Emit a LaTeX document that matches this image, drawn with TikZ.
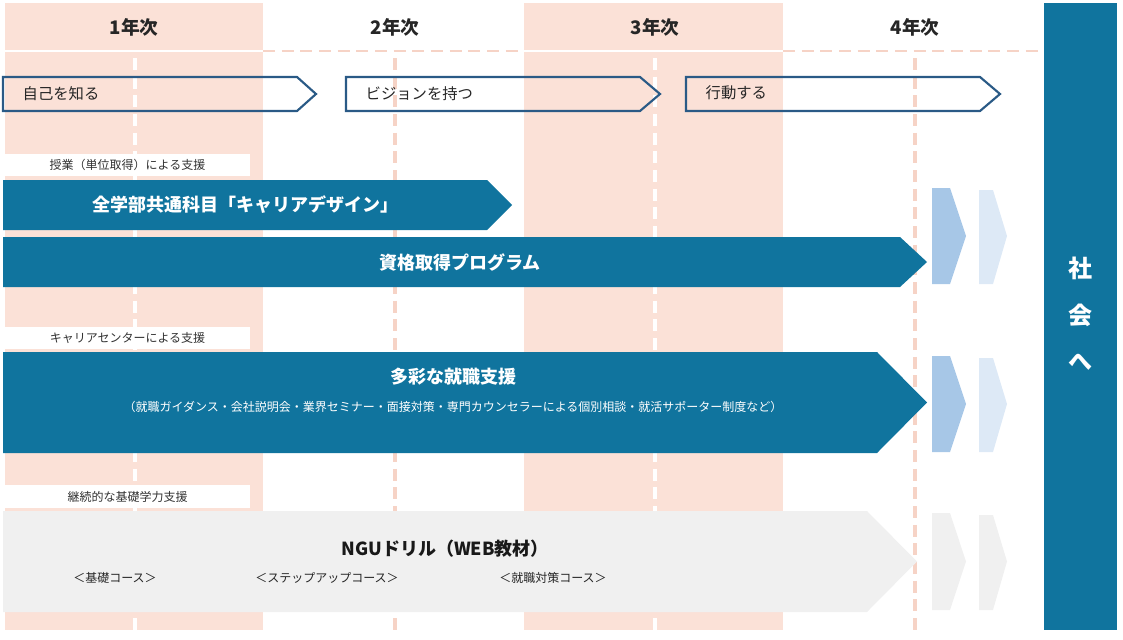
\documentclass[tikz,border=0pt]{standalone}
\usepackage{fontspec}
\setmainfont{Noto Sans CJK JP}
\definecolor{pinkband}{HTML}{FBE1D7}
\definecolor{pinkline}{HTML}{F6D3C6}
\definecolor{teal}{HTML}{10749E}
\definecolor{navy}{HTML}{2A5A86}
\definecolor{chevA}{HTML}{A7C7E7}
\definecolor{chevB}{HTML}{DDE9F6}
\definecolor{grayA}{HTML}{F0F0F0}
\begin{document}
\begin{tikzpicture}[x=0.75pt,y=-0.75pt,
  hdr/.style={font=\bfseries\fontsize{14}{16}\selectfont,text=black!85},
  steptext/.style={font=\fontsize{11.5}{13}\selectfont,text=black!85,anchor=west},
  lbl/.style={fill=white,minimum width=183.75pt,minimum height=17pt,inner sep=0pt,font=\fontsize{9}{10}\selectfont,text=black!80},
  title/.style={font=\bfseries\fontsize{13.5}{15}\selectfont,text=white},
  sub/.style={font=\fontsize{9}{10}\selectfont,text=white},
  gsub/.style={font=\fontsize{9}{10}\selectfont,text=black!85},
  vdash/.style={line width=3pt,dash pattern=on 9pt off 5pt}]
\useasboundingbox (0,0) rectangle (1123,639);
% bands
\fill[pinkband] (5,3) rectangle (263,630);
\fill[pinkband] (524,3) rectangle (783,630);
% horizontal divider
\draw[white,line width=2.2pt] (5,51) -- (263,51) (524,51) -- (783,51);
\draw[pinkline,line width=2.2pt,dash pattern=on 9pt off 5pt] (263,51) -- (524,51) (783,51) -- (1040,51);
% vertical dashed
\draw[white,vdash] (135,58) -- (135,630);
\draw[pinkline,vdash] (395,58) -- (395,630);
\draw[white,vdash] (655,58) -- (655,630);
\draw[pinkline,vdash] (915,58) -- (915,630);
% headers
\node[hdr] (h1) at (134,27) {1年次};
\node[hdr] (h2) at (395,27) {2年次};
\node[hdr] (h3) at (655,27) {3年次};
\node[hdr] (h4) at (915,27) {4年次};
% outline step arrows
\draw[navy,line width=1.6pt] (3,77) -- (297,77) -- (316,94) -- (297,111) -- (3,111) -- cycle;
\draw[navy,line width=1.6pt] (346,77) -- (640,77) -- (660,94) -- (640,111) -- (346,111) -- cycle;
\draw[navy,line width=1.6pt] (686,77) -- (980,77) -- (1000,94) -- (980,111) -- (686,111) -- cycle;
\node[steptext] (s1) at (18,94) {自己を知る};
\node[steptext] (s2) at (361,94) {ビジョンを持つ};
\node[steptext] (s3) at (701,93) {行動する};
% label boxes
\node[lbl] (l1) at (127.5,165) {授業（単位取得）による支援};
\node[lbl] (l2) at (127.5,338) {キャリアセンターによる支援};
\node[lbl] (l3) at (127.5,496.5) {継続的な基礎学力支援};
% big arrows
\fill[teal] (3,180) -- (487,180) -- (512,205) -- (487,230) -- (3,230) -- cycle;
\node[title] (a1) at (245,205) {全学部共通科目「キャリアデザイン」};
\fill[teal] (3,237) -- (900,237) -- (927,262) -- (900,287) -- (3,287) -- cycle;
\node[title] (a2) at (460,262) {資格取得プログラム};
\fill[teal] (3,352) -- (877,352) -- (927,402.5) -- (877,453) -- (3,453) -- cycle;
\node[title] (a3) at (453,377) {多彩な就職支援};
\node[sub] (a3s) at (453,407) {（就職ガイダンス・会社説明会・業界セミナー・面接対策・専門カウンセラーによる個別相談・就活サポーター制度など）};
\fill[grayA] (3,511) -- (867,511) -- (917,561.5) -- (867,612) -- (3,612) -- cycle;
\node[title,text=black!90] (a4) at (445,549) {NGUドリル（WEB教材）};
\node[gsub] (g1) at (115,578) {＜基礎コース＞};
\node[gsub] (g2) at (327,578) {＜ステップアップコース＞};
\node[gsub] (g3) at (553,578) {＜就職対策コース＞};
% chevrons
\foreach \t/\b/\ca/\cb in {188/284/chevA/chevB, 356/452/chevA/chevB, 513/610/grayA/grayA}{
  \fill[\ca] (932,\t) -- (950,\t) -- (966,{(\t+\b)/2}) -- (950,\b) -- (932,\b) -- cycle;
  \fill[\cb] (979,\t+2) -- (993,\t+2) -- (1007,{(\t+\b)/2}) -- (993,\b) -- (979,\b) -- cycle;
}
% society bar
\fill[teal] (1044,3) rectangle (1117,630);
\node[title,font=\bfseries\fontsize{18}{20}\selectfont] (k1) at (1080,268) {社};
\node[title,font=\bfseries\fontsize{18}{20}\selectfont] (k2) at (1080,315) {会};
\node[title,font=\bfseries\fontsize{18}{20}\selectfont] (k3) at (1080,362) {へ};
\end{tikzpicture}
\end{document}
